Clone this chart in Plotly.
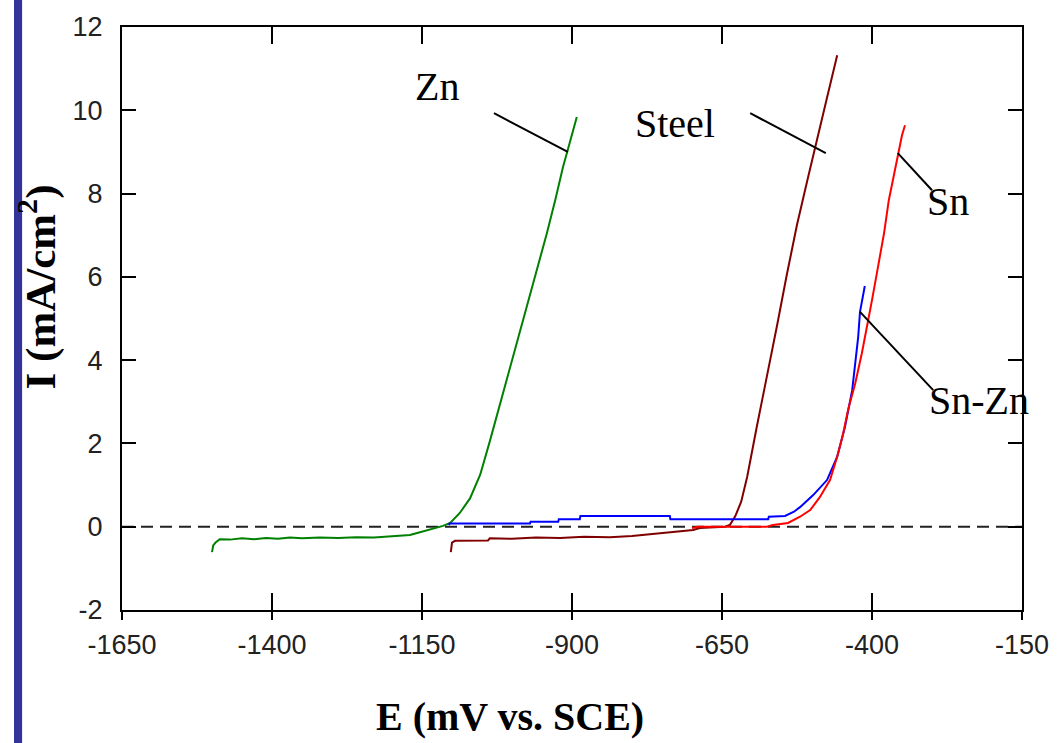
import plotly.graph_objects as go

# ---------------- data ----------------
zn_E = [-1500, -1498, -1494, -1487, -1470, -1450, -1430, -1410, -1390, -1370, -1350, -1320,
        -1290, -1260, -1230, -1210, -1190, -1170, -1158, -1145, -1135, -1125, -1115, -1103,
        -1087, -1070, -1053, -1037, -1020, -1003, -987, -973, -958, -942, -928, -915, -907,
        -900, -892]
zn_I = [-0.61, -0.45, -0.38, -0.30, -0.31, -0.28, -0.30, -0.27, -0.29, -0.26, -0.28, -0.26,
        -0.27, -0.25, -0.26, -0.24, -0.23, -0.20, -0.15, -0.10, -0.06, -0.03, 0.02, 0.09,
        0.33, 0.68, 1.25, 2.05, 2.95, 3.84, 4.64, 5.44, 6.24, 7.04, 7.84, 8.64, 9.05,
        9.45, 9.84]

steel_E = [-1102, -1100, -1095, -1070, -1040, -1037, -1000, -960, -920, -880, -837, -800,
           -770, -753, -720, -698, -687, -660, -645, -637, -628, -618, -608, -592, -575,
           -558, -542, -525, -508, -492, -475, -458]
steel_I = [-0.61, -0.38, -0.34, -0.33, -0.33, -0.28, -0.29, -0.26, -0.27, -0.24, -0.25, -0.22,
           -0.18, -0.15, -0.12, -0.08, -0.03, -0.02, 0.0, 0.04, 0.25, 0.60, 1.20, 2.40, 3.60,
           4.85, 6.05, 7.25, 8.30, 9.30, 10.30, 11.32]

sn_E = [-700, -690, -640, -600, -575, -565, -540, -520, -503, -487, -470, -458, -448, -440,
        -428, -417, -408, -400, -390, -380, -372, -362, -357, -350, -345]
sn_I = [-0.03, 0.0, 0.0, 0.0, 0.0, 0.04, 0.09, 0.24, 0.40, 0.71, 1.12, 1.68, 2.24, 2.80,
        3.44, 4.16, 4.80, 5.44, 6.24, 7.04, 7.84, 8.55, 8.97, 9.40, 9.64]

snzn_E = [-1105, -1104, -1092, -1091, -970, -969, -923, -922, -887, -886, -737, -736, -573,
          -572, -545, -530, -520, -498, -475, -458, -445, -433, -428, -423, -420, -415, -412]
snzn_I = [0.04, 0.08, 0.08, 0.08, 0.08, 0.12, 0.12, 0.18, 0.18, 0.26, 0.26, 0.18, 0.18,
          0.24, 0.26, 0.36, 0.47, 0.76, 1.12, 1.68, 2.40, 3.28, 3.92, 4.56, 5.16, 5.52, 5.78]

x_ticks = [-1650, -1400, -1150, -900, -650, -400, -150]
x_ticktext = ["-1650", "-1400", "-1150", "-900", "-650", "-400", "-150"]
y_ticks = [-2, 0, 2, 4, 6, 8, 10, 12]
y_ticktext = ["-2", "0", "2", "4", "6", "8", "10", "12"]

# curve labels: (text, label E, label I, leader start E, I, leader end E, I)
labels = [
    ("Zn",    -1125, 10.56, -1030, 9.93, -907, 9.00),
    ("Steel", -728,  9.69,  -603,  9.93, -477, 8.97),
    ("Sn",    -273,  7.82,  -357,  8.97, -300, 8.08),
    ("Sn-Zn", -222,  3.02,  -420,  5.16, -298, 3.28),
]

# ---------------- figure ----------------
fig = go.Figure()

fig.add_trace(go.Scatter(x=[x_ticks[0], x_ticks[-1]], y=[0, 0], mode="lines",
                         line=dict(color="#222222", width=2, dash="12px,7px"),
                         showlegend=False, hoverinfo="skip"))

for xs, ys, col in [(zn_E, zn_I, "#008000"), (steel_E, steel_I, "#800000"),
                    (snzn_E, snzn_I, "#0000ff"), (sn_E, sn_I, "#ff0000")]:
    fig.add_trace(go.Scatter(x=xs, y=ys, mode="lines", line=dict(color=col, width=2),
                             showlegend=False))

# dummy trace for outside tick stubs axis
fig.add_trace(go.Scatter(x=[None], y=[None], xaxis="x2", showlegend=False))

for txt, lx, ly, x0, y0, x1, y1 in labels:
    fig.add_annotation(x=lx, y=ly, text=txt, showarrow=False, xanchor="center",
                       yanchor="middle",
                       font=dict(family="Liberation Serif, Times New Roman, serif",
                                 size=40, color="black"))
    fig.add_shape(type="line", x0=x0, y0=y0, x1=x1, y1=y1, xref="x", yref="y",
                  line=dict(color="black", width=2), layer="above")

# left blue bar
fig.add_shape(type="rect", xref="paper", yref="paper", x0=-0.12, x1=-0.111,
              y0=-0.24, y1=1.06, fillcolor="#333399", line=dict(width=0), layer="above")

# axis titles
fig.add_annotation(xref="paper", yref="paper", x=0.431, y=-0.183, text="<b>E (mV vs. SCE)</b>",
                   showarrow=False, xanchor="center", yanchor="middle",
                   font=dict(family="Liberation Serif, Times New Roman, serif", size=40,
                             color="black"))
fig.add_annotation(xref="paper", yref="paper", x=-0.094, y=0.554,
                   text="<b>I (mA/cm<sup>2</sup>)</b>", textangle=-90,
                   showarrow=False, xanchor="center", yanchor="middle",
                   font=dict(family="Liberation Serif, Times New Roman, serif", size=43,
                             color="black"))

tickfont = dict(family="Liberation Sans, Arial, sans-serif", size=27, color="#222222")

fig.update_layout(
    width=1057, height=743,
    margin=dict(l=122, r=35, t=27, b=133, autoexpand=False),
    paper_bgcolor="white", plot_bgcolor="white",
    xaxis=dict(range=[x_ticks[0], x_ticks[-1]], tickvals=x_ticks, ticktext=x_ticktext,
               ticks="inside", automargin=False,
               ticklen=17, tickwidth=2, tickcolor="black", mirror="ticks",
               showline=True, linewidth=2, linecolor="black", showgrid=False,
               zeroline=False, tickfont=tickfont, ticklabelstandoff=10),
    xaxis2=dict(range=[x_ticks[0], x_ticks[-1]], tickvals=x_ticks, overlaying="x",
                anchor="y", side="bottom", ticks="outside", ticklen=9, tickwidth=2,
                tickcolor="black", showticklabels=False, showgrid=False, zeroline=False,
                showline=False, automargin=False),
    yaxis=dict(range=[y_ticks[0], y_ticks[-1]], tickvals=y_ticks, ticktext=y_ticktext,
               ticks="inside", automargin=False,
               ticklen=14, tickwidth=2, tickcolor="black", mirror="ticks",
               showline=True, linewidth=2, linecolor="black", showgrid=False,
               zeroline=False, tickfont=tickfont, ticklabelstandoff=12),
)

fig.write_html("out.html")
